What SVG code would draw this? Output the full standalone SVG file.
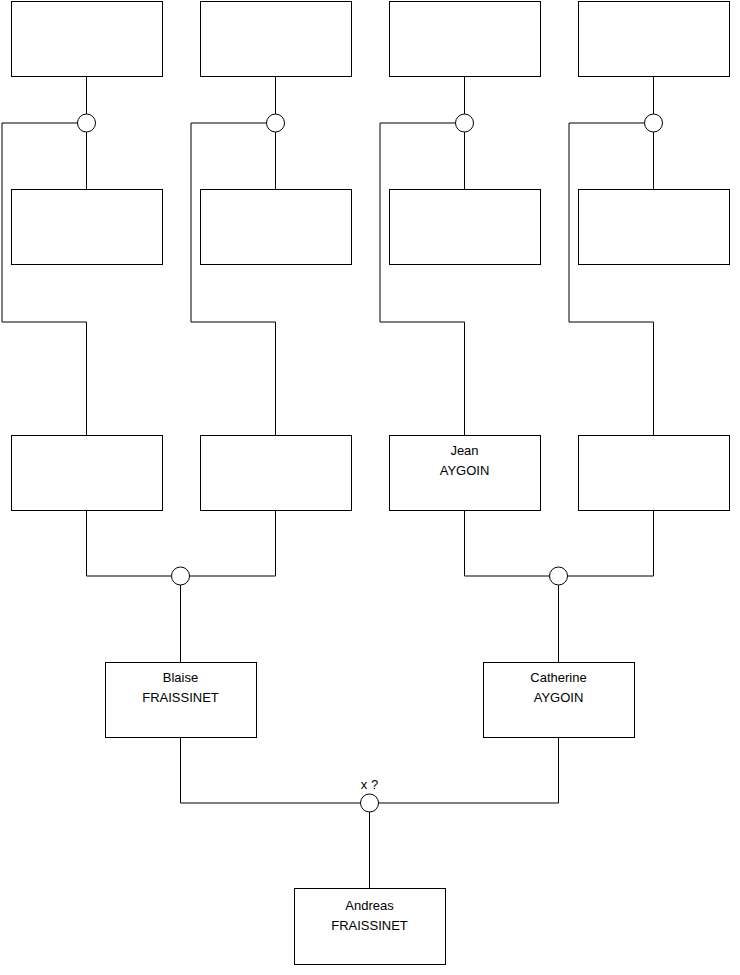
<svg xmlns="http://www.w3.org/2000/svg" width="740" height="975" viewBox="0 0 740 975">
<style>
.box{fill:#fff;stroke:#000;stroke-width:1}
.ln{fill:none;stroke:#000;stroke-width:1}
.j{fill:#fff;stroke:#000;stroke-width:1}
text{font-family:"Liberation Sans",Arial,sans-serif;font-size:13px;fill:#000;text-anchor:middle}
</style>
<rect width="740" height="975" fill="#fff"/>
<g id="connectors">
<path class="ln" d="M86.5 76V189M275.5 76V189M464.5 76V189M653.5 76V189"/>
<path class="ln" d="M77.5 123H2V322H86.5V435M266.5 123H191V322H275.5V435M455.5 123H380V322H464.5V435M644.5 123H569V322H653.5V435"/>
<path class="ln" d="M86.5 510V576H275.5V510M464.5 510V576H653.5V510"/>
<path class="ln" d="M180.5 576V662M558.5 576V662"/>
<path class="ln" d="M180.5 737V803H558.5V737M369.5 803V888"/>
<circle class="j" cx="86.5" cy="123" r="9"/>
<circle class="j" cx="275.5" cy="123" r="9"/>
<circle class="j" cx="464.5" cy="123" r="9"/>
<circle class="j" cx="653.5" cy="123" r="9"/>
<circle class="j" cx="180.5" cy="576" r="9"/>
<circle class="j" cx="558.5" cy="576" r="9"/>
<circle class="j" cx="369.5" cy="803" r="9"/>
<text x="369.5" y="789">x ?</text>
</g>
<g id="n1"><rect class="box" x="11.5" y="1.5" width="151" height="75"/></g>
<g id="n2"><rect class="box" x="200.5" y="1.5" width="151" height="75"/></g>
<g id="n3"><rect class="box" x="389.5" y="1.5" width="151" height="75"/></g>
<g id="n4"><rect class="box" x="578.5" y="1.5" width="151" height="75"/></g>
<g id="n5"><rect class="box" x="11.5" y="189.5" width="151" height="75"/></g>
<g id="n6"><rect class="box" x="200.5" y="189.5" width="151" height="75"/></g>
<g id="n7"><rect class="box" x="389.5" y="189.5" width="151" height="75"/></g>
<g id="n8"><rect class="box" x="578.5" y="189.5" width="151" height="75"/></g>
<g id="n9"><rect class="box" x="11.5" y="435.5" width="151" height="75"/></g>
<g id="n10"><rect class="box" x="200.5" y="435.5" width="151" height="75"/></g>
<g id="jean"><rect class="box" x="389.5" y="435.5" width="151" height="75"/><text x="464.5" y="455">Jean</text><text x="464.5" y="475">AYGOIN</text></g>
<g id="n12"><rect class="box" x="578.5" y="435.5" width="151" height="75"/></g>
<g id="blaise"><rect class="box" x="105.5" y="662.5" width="151" height="75"/><text x="180.5" y="682">Blaise</text><text x="180.5" y="702">FRAISSINET</text></g>
<g id="catherine"><rect class="box" x="483.5" y="662.5" width="151" height="75"/><text x="558.5" y="682">Catherine</text><text x="558.5" y="702">AYGOIN</text></g>
<g id="andreas"><rect class="box" x="294.5" y="888.5" width="151" height="76"/><text x="369.5" y="910">Andreas</text><text x="369.5" y="930">FRAISSINET</text></g>
</svg>
